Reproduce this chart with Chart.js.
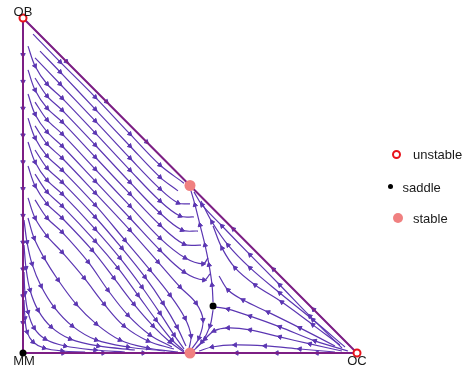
<!DOCTYPE html>
<html>
<head>
<meta charset="utf-8">
<script src="https://cdn.jsdelivr.net/npm/chart.js@4.4.1/dist/chart.umd.min.js"></script>
<style>
body{margin:0;background:#fff;}
#wrap{position:relative;width:464px;height:367px;font-family:"Liberation Sans",Arial,sans-serif;font-size:13px;color:#1a1a1a;}
#wrap canvas{position:absolute;left:0;top:0;}
.lbl{position:absolute;line-height:13px;white-space:nowrap;}
.mid{transform:translateX(-50%);}
.mk{position:absolute;border-radius:50%;box-sizing:border-box;}
</style>
</head>
<body>
<div id="wrap">
<canvas id="phase" width="464" height="367"></canvas>
<div class="lbl mid" style="left:23px;top:5px;">OB</div>
<div class="lbl mid" style="left:24px;top:354px;">MM</div>
<div class="lbl mid" style="left:357px;top:354px;">OC</div>

<div class="mk" style="left:392px;top:149.5px;width:9px;height:9px;border:2px solid #e8141c;background:#fff;"></div>
<div class="lbl" style="left:413px;top:147.5px;">unstable</div>
<div class="mk" style="left:388px;top:183.5px;width:5px;height:5px;background:#000;"></div>
<div class="lbl" style="left:402.5px;top:180.5px;">saddle</div>
<div class="mk" style="left:392.5px;top:213px;width:10px;height:10px;background:#f08080;"></div>
<div class="lbl" style="left:413px;top:211.5px;">stable</div>
</div>

<script>

/* Data: shares in percent, x = OC, y = OB (MM = rest) */

/* streamlines ending at the upper stable point */
const t1=[[3.0,95.2],[11.1,86.9],[21.6,76.4],[32.0,65.4],[41.0,56.1],[48.2,50.7]];
const t2=[[5.1,90.1],[11.1,83.9],[21.6,72.8],[32.0,61.8],[41.0,52.5],[46.4,48.4]];
const t3=[[3.6,88.1],[11.1,80.3],[21.6,69.3],[32.0,58.2],[41.0,49.0],[46.4,44.8],[50.0,44.5]];
const t4=[[1.5,91.6],[3.6,85.7],[7.2,80.3],[11.7,76.1],[21.6,65.7],[32.0,54.6],[41.0,45.4],[47.0,40.9],[51.2,40.6]];
const t5=[[3.6,82.1],[7.2,76.7],[11.7,72.5],[21.6,62.1],[32.0,51.0],[41.0,41.8],[47.6,36.7],[52.4,36.4]];
const t6=[[1.5,84.5],[3.6,78.5],[7.2,73.1],[11.7,69.0],[21.6,58.5],[32.0,47.5],[41.0,38.2],[48.2,32.5],[53.3,32.2]];
const t7=[[3.6,74.9],[7.2,69.6],[11.7,65.4],[21.6,54.9],[32.0,43.9],[41.0,34.3],[48.5,28.4],[53.9,26.6],[55.4,28.4]];
const t8=[[1.5,77.3],[3.6,71.3],[7.2,66.0],[11.7,61.8],[21.6,51.3],[32.0,40.3],[41.0,30.7],[48.2,24.2],[54.2,21.8],[56.0,23.6]];

/* streamlines ending at the lower stable point */
const b1=[[3.6,67.8],[7.2,62.4],[11.7,58.2],[21.6,47.8],[32.0,36.7],[40.4,27.2],[47.0,19.7],[51.8,14.9],[53.9,9.9],[52.7,4.5],[50.3,0.9]];
const b2=[[1.5,70.1],[3.6,64.2],[7.2,58.8],[11.7,54.6],[21.6,44.2],[30.5,33.7],[38.0,24.8],[44.0,17.3],[48.5,10.4],[50.3,5.1],[49.7,1.2]];
const b3=[[3.6,60.6],[7.2,55.2],[11.7,51.0],[21.6,40.6],[29.6,31.3],[36.5,22.7],[41.9,14.9],[46.1,7.8],[48.8,2.1]];
const b4=[[1.5,63.0],[3.6,57.0],[7.2,51.6],[11.7,47.5],[21.6,37.0],[29.0,28.4],[35.6,19.7],[41.0,11.9],[45.2,5.4],[48.2,1.2]];
const b5=[[3.6,53.4],[7.2,48.1],[11.7,43.9],[21.6,33.4],[28.4,25.4],[34.4,17.3],[39.8,9.9],[44.6,3.9],[48.2,0.6]];
const b6=[[1.5,55.8],[3.6,49.9],[7.2,44.5],[11.7,40.3],[20.7,30.7],[27.2,22.4],[33.2,14.6],[38.9,8.1],[44.0,3.3],[48.2,0.3]];
const b7=[[3.6,45.7],[7.2,40.3],[11.7,36.1],[19.5,27.2],[25.4,18.8],[31.4,11.3],[38.0,5.4],[44.6,1.8]];
const b8=[[1.5,46.3],[3.6,40.3],[7.2,34.9],[11.7,30.1],[18.3,22.4],[24.3,14.6],[30.2,8.1],[37.4,3.6],[45.2,1.2]];
const b9=[[1.5,40.3],[3.3,34.3],[6.3,28.4],[10.5,21.8],[15.9,14.6],[21.9,8.7],[29.0,3.9],[37.4,1.5],[46.4,0.3]];
const b10=[[0.3,39.7],[1.2,33.1],[2.7,26.6],[5.4,20.0],[9.3,13.7],[14.7,8.1],[21.9,3.9],[31.4,1.8],[42.5,0.6]];
const b11=[[0.3,32.2],[0.9,25.4],[2.1,18.8],[4.5,12.8],[8.4,7.8],[14.1,4.2],[22.5,2.1],[33.5,0.9]];
const b12=[[0.3,24.2],[0.6,17.9],[1.5,12.2],[3.3,7.5],[6.6,4.2],[12.6,2.1],[21.6,0.9],[30.5,0.3]];
const b13=[[0.3,15.8],[0.6,10.4],[1.2,6.3],[3.0,3.3],[6.3,1.5],[11.7,0.6],[18.6,0.3]];

/* saddle separatrices */
const sepUp=[[56.9,15.2],[56.6,20.3],[55.7,26.3],[54.5,32.2],[53.0,38.2],[51.5,44.2],[50.3,48.4]];
const sepDown=[[56.9,12.8],[56.0,8.1],[53.6,3.3],[50.6,0.3]];

/* streamlines leaving OC */
const r1=[[95.5,1.5],[85.9,11.0],[76.9,20.3],[68.0,29.3],[59.6,37.9],[53.6,44.2],[51.2,48.1]];
const r2=[[96.4,1.8],[86.8,9.9],[76.9,17.9],[68.0,25.4],[61.4,32.2],[56.6,39.1],[53.3,45.4]];
const r3=[[94.9,2.4],[86.8,8.4],[77.5,15.2],[69.5,20.3],[63.5,25.4],[59.6,31.3],[56.9,37.9]];
const r4=[[93.4,2.1],[82.9,7.5],[73.4,12.2],[65.9,15.8],[61.4,18.8],[58.7,23.0]];
const r0=[[97.3,0.6],[87.4,3.6],[76.9,7.8],[68.0,11.0],[61.4,13.1],[57.8,13.7]];
const r5=[[95.5,0.6],[85.9,2.7],[76.9,4.8],[68.0,6.9],[61.4,7.5],[57.2,6.6],[54.5,4.2],[51.8,1.5]];
const r6=[[93.4,0.3],[82.9,1.2],[72.5,2.1],[63.5,2.4],[56.6,1.8],[52.7,0.6]];

/* flow along the edges */
const edgeLeft=[[0,97],[0,89],[0,81],[0,73],[0,65],[0,57],[0,49],[0,41],[0,33],[0,25],[0,17],[0,9],[0,2]];
const edgeBottomL=[[2,0],[12,0],[24,0],[36,0],[47,0]];
const edgeBottomR=[[98,0],[88,0],[76,0],[64,0],[53,0]];
const edgeHypL=[[2,98],[13,87],[25,75],[37,63],[48,52]];
const edgeHypR=[[98,2],[87,13],[75,25],[63,37],[52,48]];

const simplex=[[0,100],[0,0],[100,0],[0,100]];

/* fixed points */
const unstablePts=[[0,100],[100,0]];
const saddlePts=[[0,0],[56.9,14.0]];
const stablePts=[[50,50],[50,0]];

/* Styles */

const flowColor="#5b36b2";
const edgeColor="#7d1f84";

function toXY(pts){
return pts.map(p=>({x:p[0],y:p[1]}));
}

function arrowSize(ctx){
if(ctx.dataIndex===undefined) return 0;
const n=ctx.dataset.data.length;
return (ctx.dataIndex>0 && ctx.dataIndex<n-1) ? 2.6 : 0;
}

function arrowAngle(ctx){
if(ctx.dataIndex===undefined) return 0;
const pts=ctx.dataset.data;
const i=ctx.dataIndex;
const a=pts[Math.max(i-1,0)];
const b=pts[Math.min(i+1,pts.length-1)];
const sx=ctx.chart.scales.x, sy=ctx.chart.scales.y;
const dx=sx.getPixelForValue(b.x)-sx.getPixelForValue(a.x);
const dy=sy.getPixelForValue(b.y)-sy.getPixelForValue(a.y);
return Math.atan2(dx,-dy)*180/Math.PI;
}

function flow(pts,order){
return {
data:toXY(pts),
showLine:true,
borderColor:flowColor,
borderWidth:1.2,
tension:0.35,
pointStyle:"triangle",
pointRadius:arrowSize,
pointRotation:arrowAngle,
pointBackgroundColor:flowColor,
pointBorderColor:flowColor,
pointBorderWidth:1,
clip:false,
order:order
};
}

const streamlines=[t1,t2,t3,t4,t5,t6,t7,t8,b1,b2,b3,b4,b5,b6,b7,b8,b9,b10,b11,b12,b13,sepUp,sepDown,r1,r2,r3,r4,r0,r5,r6];
const edgeFlows=[edgeLeft,edgeBottomL,edgeBottomR,edgeHypL,edgeHypR];

const datasets=[];

streamlines.forEach(s=>datasets.push(flow(s,3)));
edgeFlows.forEach(s=>datasets.push(flow(s,2)));

datasets.push({
data:toXY(simplex),
showLine:true,
borderColor:edgeColor,
borderWidth:2,
tension:0,
pointRadius:0,
clip:false,
order:1
});

datasets.push({
data:toXY(unstablePts),
pointRadius:3.5,
pointBorderWidth:2,
pointBorderColor:"#e8141c",
pointBackgroundColor:"#ffffff",
clip:false,
order:0
});

datasets.push({
data:toXY(saddlePts),
pointRadius:3.5,
pointBorderWidth:0,
pointBackgroundColor:"#000000",
clip:false,
order:0
});

datasets.push({
data:toXY(stablePts),
pointRadius:5.5,
pointBorderWidth:0,
pointBackgroundColor:"#f08080",
clip:false,
order:0
});

/* Chart */

new Chart(document.getElementById("phase"),{
type:"scatter",
data:{datasets:datasets},
options:{
responsive:false,
animation:false,
events:[],
layout:{padding:{left:23,right:107,top:18,bottom:14}},
scales:{
x:{type:"linear",min:0,max:100,display:false},
y:{type:"linear",min:0,max:100,display:false}
},
plugins:{
legend:{display:false},
tooltip:{enabled:false}
}
}
});

</script>
</body>
</html>
